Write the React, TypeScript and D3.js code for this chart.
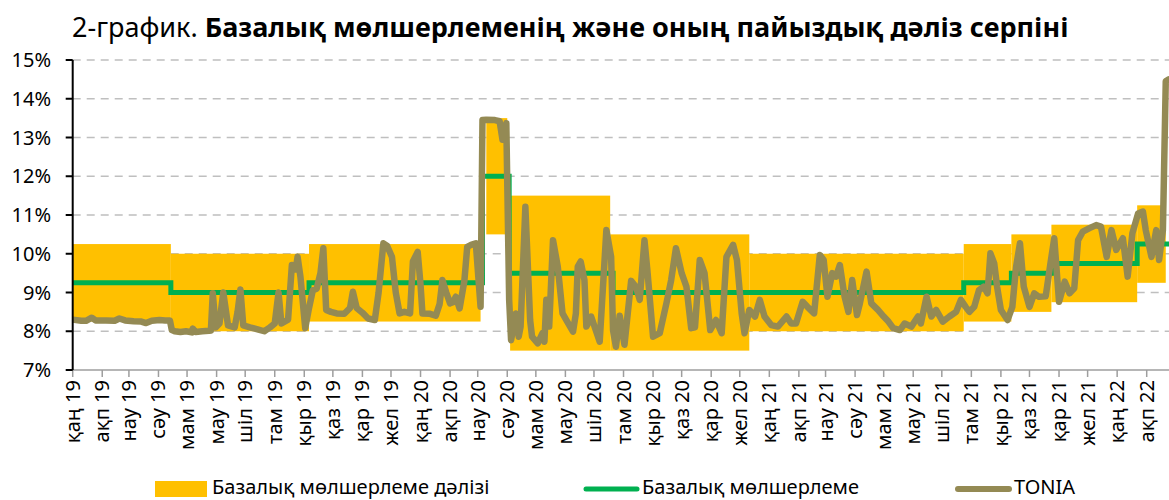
import * as d3 from "d3";

// Kazakh month abbreviations for the x axis
const monthNames = ["қаң", "ақп", "нау", "сәу", "мам", "мау", "шіл", "там", "қыр", "қаз", "қар", "жел"];
const yTicks = [7, 8, 9, 10, 11, 12, 13, 14, 15];

// corridor: [from, to, lower, upper]
const corridor: [string, string, number, number][] = [
  ["2019-01-01", "2019-04-14", 8.25, 10.25],
  ["2019-04-14", "2019-09-06", 8.0, 10.0],
  ["2019-09-06", "2020-03-04", 8.25, 10.25],
  ["2020-03-10", "2020-04-01", 10.5, 13.5],
  ["2020-04-04", "2020-07-18", 7.5, 11.5],
  ["2020-07-18", "2020-12-11", 7.5, 10.5],
  ["2020-12-11", "2021-07-24", 8.0, 10.0],
  ["2021-07-24", "2021-09-12", 8.25, 10.25],
  ["2021-09-12", "2021-10-24", 8.5, 10.5],
  ["2021-10-24", "2022-01-22", 8.75, 10.75],
  ["2022-01-22", "2022-02-21", 9.25, 11.25],
];

const baseRate: [string, number][] = [
  ["2019-01-01", 9.25],
  ["2019-04-14", 9.0],
  ["2019-09-06", 9.25],
  ["2020-03-06", 12.0],
  ["2020-04-03", 9.5],
  ["2020-07-21", 9.0],
  ["2021-07-24", 9.25],
  ["2021-09-12", 9.5],
  ["2021-10-24", 9.75],
  ["2022-01-22", 10.25],
  ["2022-02-27", 13.5],
  ["2022-03-01", 13.5],
];

const tonia: [string, number][] = [
  ["2019-01-01", 8.3], ["2019-01-10", 8.27], ["2019-01-15", 8.27], ["2019-01-21", 8.35], ["2019-01-25", 8.28],
  ["2019-02-05", 8.28], ["2019-02-14", 8.27], ["2019-02-19", 8.33], ["2019-02-25", 8.28], ["2019-03-06", 8.26],
  ["2019-03-14", 8.25], ["2019-03-19", 8.21], ["2019-03-25", 8.27], ["2019-04-02", 8.29], ["2019-04-08", 8.28],
  ["2019-04-13", 8.28], ["2019-04-15", 8.03], ["2019-04-18", 8.0], ["2019-04-24", 7.98], ["2019-04-30", 8.0],
  ["2019-05-06", 7.97], ["2019-05-07", 8.07], ["2019-05-10", 7.98], ["2019-05-17", 8.0], ["2019-05-24", 8.01],
  ["2019-05-26", 8.02], ["2019-05-28", 8.98], ["2019-05-31", 8.1], ["2019-06-04", 8.2], ["2019-06-08", 9.0],
  ["2019-06-13", 8.15], ["2019-06-20", 8.1], ["2019-06-23", 8.5], ["2019-06-26", 9.08], ["2019-06-29", 8.15],
  ["2019-07-06", 8.1], ["2019-07-14", 8.05], ["2019-07-21", 8.0], ["2019-07-27", 8.1], ["2019-08-01", 8.2],
  ["2019-08-05", 9.0], ["2019-08-08", 8.2], ["2019-08-15", 8.3], ["2019-08-19", 9.71], ["2019-08-23", 9.6],
  ["2019-08-25", 9.92], ["2019-08-28", 9.4], ["2019-09-02", 8.08], ["2019-09-06", 8.6], ["2019-09-10", 9.06],
  ["2019-09-14", 9.1], ["2019-09-18", 9.5], ["2019-09-21", 10.14], ["2019-09-24", 8.55], ["2019-09-29", 8.5],
  ["2019-10-05", 8.46], ["2019-10-13", 8.45], ["2019-10-19", 8.6], ["2019-10-22", 9.02], ["2019-10-26", 8.6],
  ["2019-11-01", 8.48], ["2019-11-07", 8.33], ["2019-11-14", 8.29], ["2019-11-18", 9.0], ["2019-11-23", 10.27],
  ["2019-11-27", 10.2], ["2019-12-02", 9.92], ["2019-12-06", 9.0], ["2019-12-10", 8.46], ["2019-12-15", 8.5],
  ["2019-12-21", 8.46], ["2019-12-24", 9.8], ["2019-12-29", 10.05], ["2020-01-01", 9.2], ["2020-01-03", 8.46],
  ["2020-01-11", 8.45], ["2020-01-17", 8.4], ["2020-01-21", 8.7], ["2020-01-24", 9.32], ["2020-01-28", 9.0],
  ["2020-02-01", 8.72], ["2020-02-04", 8.75], ["2020-02-07", 8.89], ["2020-02-11", 8.59], ["2020-02-16", 9.3],
  ["2020-02-19", 10.18], ["2020-02-23", 10.23], ["2020-02-28", 10.27], ["2020-03-04", 8.63], ["2020-03-06", 13.45],
  ["2020-03-10", 13.46], ["2020-03-19", 13.45], ["2020-03-24", 13.42], ["2020-03-27", 12.94], ["2020-03-31", 13.37],
  ["2020-04-03", 8.81], ["2020-04-05", 7.77], ["2020-04-10", 8.46], ["2020-04-13", 7.86], ["2020-04-15", 8.12],
  ["2020-04-20", 11.21], ["2020-04-25", 8.29], ["2020-04-27", 7.86], ["2020-05-03", 7.69], ["2020-05-08", 7.95],
  ["2020-05-10", 7.73], ["2020-05-12", 8.81], ["2020-05-15", 8.12], ["2020-05-19", 10.35], ["2020-05-24", 9.67],
  ["2020-05-29", 8.46], ["2020-06-02", 8.29], ["2020-06-09", 7.99], ["2020-06-12", 8.46], ["2020-06-14", 9.67],
  ["2020-06-17", 9.8], ["2020-06-21", 9.32], ["2020-06-23", 8.12], ["2020-06-28", 8.38], ["2020-07-07", 7.73],
  ["2020-07-14", 10.61], ["2020-07-19", 9.92], ["2020-07-21", 8.03], ["2020-07-24", 7.6], ["2020-07-28", 8.4],
  ["2020-08-02", 7.65], ["2020-08-09", 9.3], ["2020-08-14", 9.15], ["2020-08-18", 8.81], ["2020-08-23", 10.35],
  ["2020-08-26", 9.58], ["2020-09-01", 7.86], ["2020-09-08", 7.95], ["2020-09-15", 8.72], ["2020-09-20", 9.32],
  ["2020-09-25", 10.14], ["2020-10-01", 9.5], ["2020-10-06", 9.15], ["2020-10-11", 8.08], ["2020-10-15", 8.1],
  ["2020-10-20", 9.84], ["2020-10-25", 9.5], ["2020-10-31", 8.03], ["2020-11-06", 8.29], ["2020-11-12", 7.95],
  ["2020-11-17", 9.92], ["2020-11-24", 10.23], ["2020-11-28", 9.84], ["2020-12-03", 8.46], ["2020-12-06", 7.95],
  ["2020-12-11", 8.55], ["2020-12-17", 8.38], ["2020-12-22", 8.81], ["2020-12-27", 8.38], ["2021-01-03", 8.16],
  ["2021-01-10", 8.12], ["2021-01-19", 8.38], ["2021-01-24", 8.2], ["2021-01-29", 8.2], ["2021-02-05", 8.76],
  ["2021-02-10", 8.63], ["2021-02-17", 8.46], ["2021-02-23", 9.97], ["2021-02-27", 9.84], ["2021-03-03", 8.89],
  ["2021-03-08", 9.5], ["2021-03-12", 9.41], ["2021-03-16", 9.71], ["2021-03-21", 8.89], ["2021-03-25", 8.5],
  ["2021-03-29", 9.32], ["2021-04-03", 8.42], ["2021-04-06", 8.72], ["2021-04-13", 9.54], ["2021-04-18", 8.72],
  ["2021-04-25", 8.55], ["2021-05-01", 8.38], ["2021-05-06", 8.25], ["2021-05-11", 8.08], ["2021-05-18", 8.03],
  ["2021-05-23", 8.2], ["2021-05-30", 8.12], ["2021-06-06", 8.38], ["2021-06-09", 8.2], ["2021-06-15", 8.89],
  ["2021-06-20", 8.38], ["2021-06-25", 8.55], ["2021-07-02", 8.25], ["2021-07-09", 8.38], ["2021-07-16", 8.5],
  ["2021-07-21", 8.81], ["2021-07-26", 8.63], ["2021-07-30", 8.5], ["2021-08-04", 8.63], ["2021-08-09", 9.06],
  ["2021-08-14", 9.15], ["2021-08-18", 8.98], ["2021-08-21", 10.01], ["2021-08-25", 9.75], ["2021-08-28", 9.15],
  ["2021-09-01", 8.55], ["2021-09-08", 8.29], ["2021-09-13", 8.63], ["2021-09-17", 9.67], ["2021-09-21", 10.27],
  ["2021-09-25", 9.15], ["2021-10-01", 8.63], ["2021-10-06", 8.98], ["2021-10-11", 8.89], ["2021-10-18", 8.9],
  ["2021-10-23", 9.75], ["2021-10-27", 10.4], ["2021-11-01", 8.76], ["2021-11-07", 9.28], ["2021-11-12", 8.98],
  ["2021-11-17", 9.11], ["2021-11-21", 10.35], ["2021-11-26", 10.57], ["2021-12-03", 10.66], ["2021-12-10", 10.74],
  ["2021-12-15", 10.7], ["2021-12-21", 9.92], ["2021-12-26", 10.61], ["2021-12-31", 10.1], ["2022-01-07", 10.4],
  ["2022-01-12", 9.41], ["2022-01-17", 10.53], ["2022-01-23", 11.04], ["2022-01-28", 11.09], ["2022-01-31", 10.61],
  ["2022-02-06", 9.92], ["2022-02-11", 10.61], ["2022-02-14", 9.84], ["2022-02-18", 10.61], ["2022-02-21", 14.45],
  ["2022-02-24", 14.5],
];

const legendItems = ["Базалық мөлшерлеме дәлізі", "Базалық мөлшерлеме", "TONIA"];

const W = 1169;
const H = 500;
const font = "'Noto Sans', sans-serif";
const parse = d3.timeParse("%Y-%m-%d");
const pd = (s: string) => parse(s) as Date;

export default function App() {
  const x = d3.scaleTime().domain([pd("2019-01-01"), pd("2022-02-01")]).range([72.7, 1146.7]);
  const y = d3.scaleLinear().domain([7, 15]).range([370, 60]);
  const months = d3.timeMonth.range(pd("2019-01-01"), pd("2022-02-02"));

  const rateLine = d3
    .line<[string, number]>()
    .x((d) => x(pd(d[0])))
    .y((d) => y(d[1]))
    .curve(d3.curveStepAfter);
  const toniaLine = d3
    .line<[string, number]>()
    .x((d) => x(pd(d[0])))
    .y((d) => y(d[1]));

  const x0 = x.range()[0];

  return (
    <div style={{ position: "absolute", left: 0, top: 0 }}>
      <svg width={W} height={H} style={{ display: "block", fontFamily: font }}>
        <defs>
          <clipPath id="plot">
            <rect x={x0} y={0} width={W - x0} height={y(7)} />
          </clipPath>
        </defs>

        <text x={72} y={37} fontSize={27}>
          2-график. <tspan fontWeight="bold">Базалық мөлшерлеменің және оның пайыздық дәліз серпіні</tspan>
        </text>

        {/* grid */}
        {yTicks.slice(1).map((t) => (
          <line key={t} x1={x0} x2={W} y1={y(t)} y2={y(t)} stroke="#bfbfbf" strokeWidth={1.5} strokeDasharray="8 6" />
        ))}

        <g clipPath="url(#plot)">
          {corridor.map((c, i) => (
            <rect
              key={i}
              x={x(pd(c[0]))}
              width={x(pd(c[1])) - x(pd(c[0]))}
              y={y(c[3])}
              height={y(c[2]) - y(c[3])}
              fill="#FFC000"
            />
          ))}
          <path d={rateLine(baseRate) || ""} fill="none" stroke="#00B050" strokeWidth={5} />
          <path
            d={toniaLine(tonia) || ""}
            fill="none"
            stroke="#948A54"
            strokeWidth={6.5}
            strokeLinejoin="round"
            strokeLinecap="round"
          />
        </g>

        {/* x axis */}
        <line x1={x0} x2={W} y1={y(7)} y2={y(7)} stroke="#9e9e9e" strokeWidth={1.5} />
        {months.map((m, i) => (
          <g key={i} transform={`translate(${x(m)},${y(7)})`}>
            <line y1={0} y2={7} stroke="#9e9e9e" strokeWidth={1.5} />
            <text transform="translate(7,10) rotate(-90)" textAnchor="end" fontSize={20}>
              {monthNames[m.getMonth()]} {String(m.getFullYear()).slice(2)}
            </text>
          </g>
        ))}

        {/* y axis */}
        <line x1={x0} x2={x0} y1={y(15)} y2={y(7)} stroke="#000" strokeWidth={2} />
        {yTicks.map((t) => (
          <g key={t} transform={`translate(0,${y(t)})`}>
            <line x1={x0 - 7} x2={x0} stroke="#000" strokeWidth={2} />
            <text x={51} dy="0.35em" textAnchor="end" fontSize={20}>
              {t}%
            </text>
          </g>
        ))}

        {/* legend */}
        <g fontSize={20}>
          <rect x={155} y={481} width={52} height={16} fill="#FFC000" />
          <text x={212} y={494}>{legendItems[0]}</text>
          <line x1={586} x2={637} y1={489} y2={489} stroke="#00B050" strokeWidth={5} strokeLinecap="round" />
          <text x={642} y={494}>{legendItems[1]}</text>
          <line x1={958} x2={1009} y1={489} y2={489} stroke="#948A54" strokeWidth={6} strokeLinecap="round" />
          <text x={1014} y={494}>{legendItems[2]}</text>
        </g>
      </svg>
    </div>
  );
}
